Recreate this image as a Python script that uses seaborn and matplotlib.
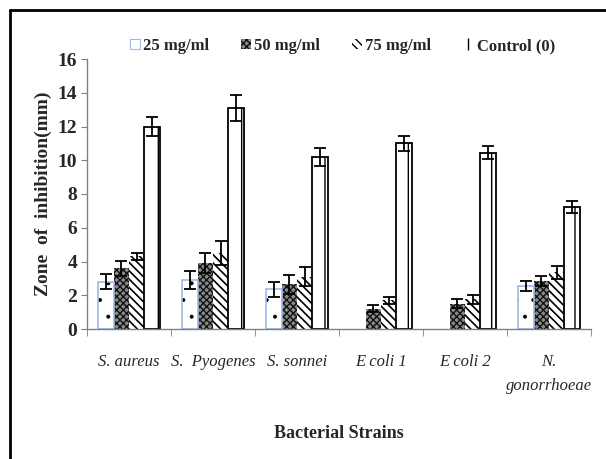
import matplotlib
matplotlib.use("Agg")
import matplotlib.pyplot as plt
import seaborn as sns
import pandas as pd
import numpy as np
from matplotlib.patches import Rectangle
from matplotlib.lines import Line2D

strains = ["S. aureus", "S.  Pyogenes", "S. sonnei", "E coli 1", "E coli 2", "N.\ngonorrhoeae"]
concentrations = ["25 mg/ml", "50 mg/ml", "75 mg/ml", "Control (0)"]
vals_25 = [2.8, 2.9, 2.35, 0.0, 0.0, 2.55]
vals_50 = [3.6, 3.9, 2.65, 1.2, 1.5, 2.85]
vals_75 = [4.3, 4.5, 3.1, 1.7, 1.75, 3.35]
vals_ctrl = [12.0, 13.1, 10.2, 11.0, 10.45, 7.25]
err_25 = [0.43, 0.55, 0.45, 0.0, 0.0, 0.3]
err_50 = [0.45, 0.6, 0.55, 0.2, 0.25, 0.3]
err_75 = [0.2, 0.7, 0.55, 0.2, 0.25, 0.4]
err_ctrl = [0.55, 0.75, 0.55, 0.45, 0.4, 0.35]
yticks = [0, 2, 4, 6, 8, 10, 12, 14, 16]

values = [vals_25, vals_50, vals_75, vals_ctrl]
errors = [err_25, err_50, err_75, err_ctrl]

rows = []
for c, vs in zip(concentrations, values):
    for s, v in zip(strains, vs):
        rows.append({"strain": s, "conc": c, "value": v})
df = pd.DataFrame(rows)

sns.set_style("white")
plt.rcParams["font.family"] = ["Liberation Serif", "DejaVu Serif"]
plt.rcParams["hatch.linewidth"] = 1.0

fig = plt.figure(figsize=(6.06, 4.59), dpi=100)
ax = fig.add_axes([87/606, (459-329)/459, (591-87)/606, (329-59)/459])

sns.barplot(data=df, x="strain", y="value", hue="conc", order=strains,
            hue_order=concentrations, palette=["white"]*4, errorbar=None,
            width=0.73, ax=ax, legend=False, saturation=1)

styles = [
    dict(hatch=".", edge="black", face="white", lw=0, hlw=0.4),
    dict(hatch="xxxxx", edge="#111111", face="#8a8a8a", lw=0, hlw=1.0),
    dict(hatch="\\\\\\\\", edge="black", face="white", lw=0, hlw=1.2),
    dict(hatch="|", edge="black", face="white", lw=1.3, hlw=1.0),
]

def set_hlw(p, w):
    if hasattr(p, "set_hatch_linewidth"):
        p.set_hatch_linewidth(w)

for cont, st, errs in zip(ax.containers, styles, errors):
    xs, ys, es = [], [], []
    for p, e in zip(cont.patches, errs):
        p.set_facecolor(st["face"])
        p.set_hatch(st["hatch"])
        p.set_edgecolor(st["edge"])
        p.set_linewidth(st["lw"])
        set_hlw(p, st["hlw"])
        if st is styles[0] and p.get_height() > 0:
            ax.add_patch(Rectangle((p.get_x(), p.get_y()), p.get_width(), p.get_height(),
                                   fill=False, edgecolor="#9DB9E8", linewidth=1.2, zorder=p.get_zorder()+0.1))
        if p.get_height() > 0:
            xs.append(p.get_x() + p.get_width()/2)
            ys.append(p.get_height())
            es.append(e)
    ax.errorbar(xs, ys, yerr=es, fmt="none", ecolor="black", elinewidth=1.3,
                capsize=4, capthick=1.3, zorder=5)

ax.set_ylim(0, 16)
ax.set_yticks(yticks)
ax.set_yticklabels([str(t) for t in yticks], fontsize=14, fontweight="bold")
ax.set_xlim(-0.5, len(strains)-0.5)
ax.set_xticks(range(len(strains)))
ax.set_xticklabels(strains, fontsize=12, fontstyle="italic", va="top", linespacing=1.7)
ax.set_xticks(np.arange(-0.5, len(strains), 1.0), minor=True)
ax.tick_params(axis="x", which="major", length=0, pad=18)
ax.tick_params(axis="x", which="minor", length=5, color="#808080", direction="out", bottom=True)
ax.tick_params(axis="y", length=4, color="#808080", direction="out", left=True, pad=3)
for side in ["top", "right"]:
    ax.spines[side].set_visible(False)
for side in ["left", "bottom"]:
    ax.spines[side].set_color("#808080")
    ax.spines[side].set_linewidth(1.0)

ax.set_xlabel("Bacterial Strains", fontsize=13, fontweight="bold", labelpad=22)
ax.set_ylabel("Zone  of  inhibition(mm)", fontsize=14, fontweight="bold", labelpad=4)

handles = []
for i, st in enumerate(styles[:3]):
    h = Rectangle((0, 0), 1, 1, facecolor=st["face"], hatch=st["hatch"],
                  edgecolor="#9DB9E8" if i == 0 else st["edge"],
                  linewidth=0.8 if i == 0 else 0)
    handles.append(h)
handles.append(Line2D([], [], marker="|", color="black", linestyle="none",
                      markersize=8, markeredgewidth=1.0))
leg = fig.legend(handles, concentrations, loc="center", bbox_to_anchor=(0.565, 0.9),
                 ncol=4, frameon=False, handlelength=0.6, handleheight=0.6,
                 handletextpad=0.2, columnspacing=1.9,
                 prop={"family": "Liberation Serif", "weight": "bold", "size": 12})

fig.add_artist(Line2D([10/606, 1.05], [1-10/459, 1-10/459], color="black", lw=2, transform=fig.transFigure))
fig.add_artist(Line2D([10/606, 10/606], [-0.05, 1-10/459], color="black", lw=2, transform=fig.transFigure))

fig.savefig("out.png", dpi=100)
